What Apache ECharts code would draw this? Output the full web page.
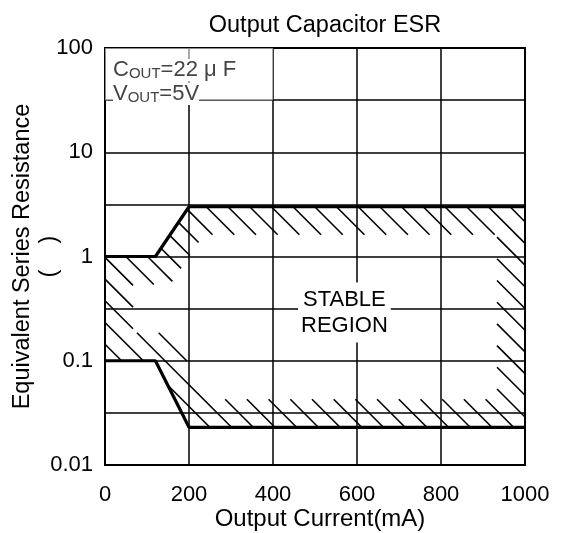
<!DOCTYPE html>
<html><head><meta charset="utf-8">
<script src="https://cdn.jsdelivr.net/npm/echarts/dist/echarts.min.js"></script>
<style>html,body{margin:0;padding:0;background:#fff}#c{width:567px;height:533px}</style>
</head><body><div id="c"></div>
<script>
// ---- data ----
const chartTitle = 'Output Capacitor ESR';
const xName = 'Output Current(mA)';
const yName = 'Equivalent Series Resistance\n(    )';
const xTicks = [0, 200, 400, 600, 800, 1000];
const yTicks = [0.01, 0.1, 1, 10, 100];
// upper ESR limit of the stable region (Ω) vs output current (mA)
const upperX = [0, 120, 200, 1000];
const upperY = [1, 1, 3, 3];
// lower ESR limit
const lowerX = [0, 120, 200, 1000];
const lowerY = [0.1, 0.1, 0.023, 0.023];
const regionLabel = 'STABLE\nREGION';
const regionLabelAt = [570, 0.29];
const condBoxX = [0, 400];
const condLines = ['{c|C}{s|OUT}{c|=22 μ F}', '{c|V}{s|OUT}{c|=5V}'];

const FONT = '"Liberation Sans", Arial, Helvetica, sans-serif';
const BAND = 28, SPACING = 21.7;

function insetPolygon(p, d) {
  const n = p.length, lines = [];
  for (let i = 0; i < n; i++) {
    const a = p[i], b = p[(i + 1) % n];
    let dx = b[0] - a[0], dy = b[1] - a[1];
    const L = Math.hypot(dx, dy) || 1; dx /= L; dy /= L;
    lines.push({x: a[0] - dy * d, y: a[1] + dx * d, dx, dy});
  }
  const q = [];
  for (let i = 0; i < n; i++) {
    const l1 = lines[(i - 1 + n) % n], l2 = lines[i];
    const den = l1.dx * l2.dy - l1.dy * l2.dx;
    if (Math.abs(den) < 1e-9) { q.push([l2.x, l2.y]); continue; }
    const t = ((l2.x - l1.x) * l2.dy - (l2.y - l1.y) * l2.dx) / den;
    q.push([l1.x + t * l1.dx, l1.y + t * l1.dy]);
  }
  return q;
}
function crossings(poly, c) {
  const xs = [];
  for (let i = 0; i < poly.length; i++) {
    const a = poly[i], b = poly[(i + 1) % poly.length];
    const fa = a[1] - a[0] - c, fb = b[1] - b[0] - c;
    if ((fa > 0) !== (fb > 0)) { const s = fa / (fa - fb); xs.push(a[0] + s * (b[0] - a[0])); }
  }
  xs.sort((u, v) => u - v);
  const iv = [];
  for (let i = 0; i + 1 < xs.length; i += 2) iv.push([xs[i], xs[i + 1]]);
  return iv;
}
function subtract(A, B) {
  let res = A.slice();
  B.forEach(([b0, b1]) => {
    const nr = [];
    res.forEach(([a0, a1]) => {
      if (b1 <= a0 || b0 >= a1) { nr.push([a0, a1]); return; }
      if (b0 > a0) nr.push([a0, b0]);
      if (b1 < a1) nr.push([b1, a1]);
    });
    res = nr;
  });
  return res;
}
function hatchRender(params, api) {
  const pts = [];
  upperX.forEach((x, i) => pts.push(api.coord([x, upperY[i]])));
  for (let i = lowerX.length - 1; i >= 0; i--) pts.push(api.coord([lowerX[i], lowerY[i]]));
  const inner = insetPolygon(pts, BAND);
  let cMin = Infinity, cMax = -Infinity;
  pts.forEach(p => { cMin = Math.min(cMin, p[1] - p[0]); cMax = Math.max(cMax, p[1] - p[0]); });
  const children = [];
  for (let c = Math.floor(cMin / SPACING) * SPACING + 0.5; c <= cMax; c += SPACING) {
    const segs = subtract(crossings(pts, c), crossings(inner, c));
    segs.forEach(([x0, x1]) => {
      if (x1 - x0 < 2) return;
      children.push({type: 'line', shape: {x1: x0, y1: x0 + c, x2: x1, y2: x1 + c},
        style: {stroke: '#000', lineWidth: 1.6}});
    });
  }
  return {type: 'group', children};
}

const chart = echarts.init(document.getElementById('c'), null, {renderer: 'canvas'});
const txt = {fontFamily: FONT, color: '#000', fontSize: 22};
chart.setOption({
  animation: false,
  backgroundColor: '#fff',
  title: {text: chartTitle, left: 320, top: 9, textAlign: 'center',
    textStyle: {fontFamily: FONT, fontSize: 23.5, fontWeight: 'normal', color: '#000'}},
  grid: {left: 105, right: 42, top: 48, bottom: 68, containLabel: false, outerBoundsMode: 'none',
    show: true, borderColor: '#000', borderWidth: 2, backgroundColor: '#fff'},
  xAxis: {type: 'value', min: xTicks[0], max: xTicks[xTicks.length - 1], interval: xTicks[1] - xTicks[0],
    name: xName, nameLocation: 'middle', nameGap: 42, nameMoveOverlap: false,
    nameTextStyle: Object.assign({}, txt, {fontSize: 24, padding: [0, 0, 0, 10]}),
    axisLine: {show: false}, axisTick: {show: false},
    axisLabel: Object.assign({}, txt, {margin: 19, formatter: v => String(v)}),
    splitLine: {show: true, lineStyle: {color: '#000', width: 1.5}}},
  yAxis: [
    {type: 'log', logBase: 10, min: yTicks[0], max: yTicks[yTicks.length - 1],
      name: yName, nameLocation: 'middle', nameGap: 42, nameRotate: 90, nameMoveOverlap: false,
      nameTextStyle: Object.assign({}, txt, {fontSize: 23.5, lineHeight: 27}),
      axisLine: {show: false}, axisTick: {show: false}, splitLine: {show: false},
      axisLabel: Object.assign({}, txt, {margin: 12, formatter: v => String(parseFloat(Number(v).toPrecision(2)))})},
    {type: 'value', min: -2, max: 2, interval: 0.5, position: 'right',
      axisLine: {show: false}, axisTick: {show: false}, axisLabel: {show: false},
      splitLine: {show: true, lineStyle: {color: '#000', width: 1.5}}}
  ],
  series: [
    {type: 'custom', yAxisIndex: 0, z: 3, silent: true, renderItem: hatchRender, data: [[0, 1]]},
    {type: 'line', yAxisIndex: 0, z: 4, symbol: 'none', silent: true,
      data: upperX.map((x, i) => [x, upperY[i]]), lineStyle: {color: '#000', width: 3.2},
      markArea: {silent: true, itemStyle: {color: 'rgba(255,255,255,0.55)', borderWidth: 0},
        label: {show: true, position: 'insideTopLeft', offset: [3, 4],
          formatter: condLines.join('\n'),
          rich: {
            c: {fontFamily: FONT, fontSize: 22, color: '#444', lineHeight: 24, backgroundColor: '#fff', verticalAlign: 'bottom'},
            s: {fontFamily: FONT, fontSize: 15, color: '#444', lineHeight: 19, backgroundColor: '#fff', verticalAlign: 'bottom'}
          }},
        data: [[{coord: [condBoxX[0], Math.pow(10, 1.5)]}, {coord: [condBoxX[1], yTicks[yTicks.length - 1]]}]]}},
    {type: 'line', yAxisIndex: 0, z: 4, symbol: 'none', silent: true,
      data: lowerX.map((x, i) => [x, lowerY[i]]), lineStyle: {color: '#000', width: 3.2},
      markPoint: {silent: true, symbol: 'rect', symbolSize: 1, itemStyle: {color: 'rgba(0,0,0,0)'},
        label: {show: true, position: 'inside', formatter: regionLabel, fontFamily: FONT, fontSize: 22,
          lineHeight: 26, color: '#000', backgroundColor: '#fff', padding: [4, 3]},
        data: [{coord: regionLabelAt}]}}
  ]
});
</script></body></html>
